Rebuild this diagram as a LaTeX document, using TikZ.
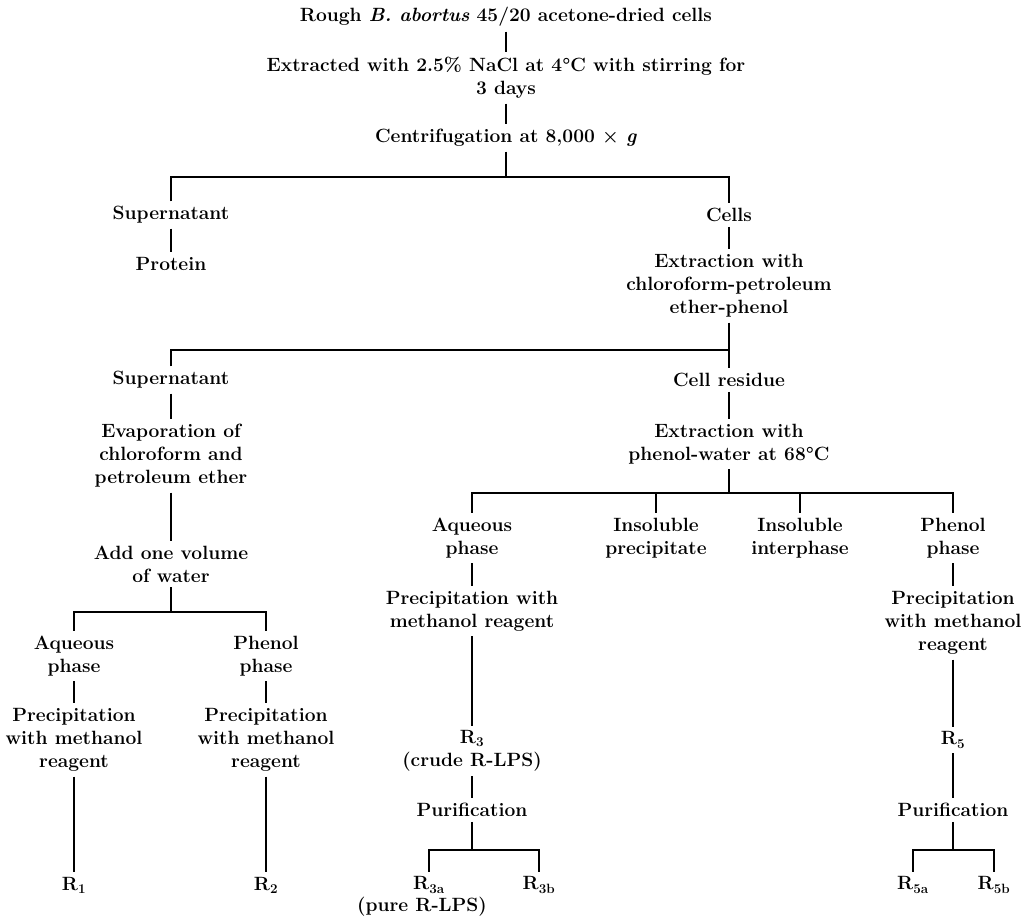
\documentclass[tikz,border=0pt]{standalone}
\usepackage{fontspec}
\begin{document}
\begin{tikzpicture}[x=1pt,y=-1pt,
  t/.style={align=center,inner sep=0pt,outer sep=5pt,font=\fontsize{19.2}{23}\selectfont\bfseries},
  conn/.style={line width=1.2pt}]
\useasboundingbox (0,0) rectangle (1029,917);
% top chain
\node[t] (rough) at (506,17) {Rough \textit{B. abortus} 45/20 acetone-dried cells};
\node[t] (ext) at (506,78) {Extracted with 2.5\% NaCl at 4°C with stirring for\\3 days};
\node[t] (cent) at (506,138) {Centrifugation at 8,000 × \textit{g}};
\coordinate (j1) at (506,177);
\node[t] (sup1) at (171,215) {Supernatant};
\node[t] (cells) at (729,215) {Cells};
\node[t] (prot) at (171,264) {Protein};
\node[t] (excf) at (729,286) {Extraction with\\chloroform-petroleum\\ether-phenol};
\coordinate (j2) at (729,350);
\node[t] (sup2) at (171,380) {Supernatant};
\node[t] (resid) at (729,380) {Cell residue};
% left branch
\node[t] (evap) at (171,456) {Evaporation of\\chloroform and\\petroleum ether};
\node[t] (add) at (171,564) {Add one volume\\of water};
\coordinate (j3) at (171,612);
\node[t] (aq1) at (74,656) {Aqueous\\phase};
\node[t] (ph1) at (266,656) {Phenol\\phase};
\node[t] (pr1) at (74,740) {Precipitation\\with methanol\\reagent};
\node[t] (pr2) at (266,740) {Precipitation\\with methanol\\reagent};
\node[t] (r1) at (74,885) {R\textsubscript{1}};
\node[t] (r2) at (266,885) {R\textsubscript{2}};
% right branch
\node[t] (expw) at (729,444) {Extraction with\\phenol-water at 68°C};
\coordinate (j4) at (729,493);
\node[t] (aq2) at (472,538) {Aqueous\\phase};
\node[t] (insp) at (656,538) {Insoluble\\precipitate};
\node[t] (insi) at (800,538) {Insoluble\\interphase};
\node[t] (ph2) at (953,538) {Phenol\\phase};
\node[t] (pr3) at (472,611) {Precipitation with\\methanol reagent};
\node[t] (pr5) at (953,623) {Precipitation\\with methanol\\reagent};
\node[t] (r3) at (472,751) {R\textsubscript{3}\\(crude R-LPS)};
\node[t] (pu3) at (472,810) {Purification};
\coordinate (j5) at (472,850);
\node[t] (r3a) at (429,885) {R\textsubscript{3a}};
\node[t] (r3b) at (539,885) {R\textsubscript{3b}};
\node[t] (pure) at (422,907) {(pure R-LPS)};
\node[t] (r5) at (953,740) {R\textsubscript{5}};
\node[t] (pu5) at (953,810) {Purification};
\coordinate (j6) at (953,850);
\node[t] (r5a) at (913,885) {R\textsubscript{5a}};
\node[t] (r5b) at (994,885) {R\textsubscript{5b}};
% connectors
\begin{scope}[conn]
\draw (rough) -- (ext);
\draw (ext) -- (cent);
\draw (cent) -- (j1);
\draw (sup1.north) |- (j1) -| (cells.north);
\draw (sup1) -- (prot);
\draw (cells) -- (excf);
\draw (excf) -- (j2);
\draw (sup2.north) |- (j2);
\draw (j2) -- (resid);
\draw (sup2) -- (evap);
\draw (evap) -- (add);
\draw (add) -- (j3);
\draw (aq1.north) |- (j3) -| (ph1.north);
\draw (aq1) -- (pr1);
\draw (ph1) -- (pr2);
\draw (pr1) -- (r1);
\draw (pr2) -- (r2);
\draw (resid) -- (expw);
\draw (expw) -- (j4);
\draw (aq2.north) |- (j4) -| (ph2.north);
\draw (insp.north) -- (insp.north |- j4);
\draw (insi.north) -- (insi.north |- j4);
\draw (aq2) -- (pr3);
\draw (pr3) -- (r3);
\draw (r3) -- (pu3);
\draw (pu3) -- (j5);
\draw (r3a.north) |- (j5) -| (r3b.north);
\draw (ph2) -- (pr5);
\draw (pr5) -- (r5);
\draw (r5) -- (pu5);
\draw (pu5) -- (j6);
\draw (r5a.north) |- (j6) -| (r5b.north);
\end{scope}
\end{tikzpicture}
\end{document}
